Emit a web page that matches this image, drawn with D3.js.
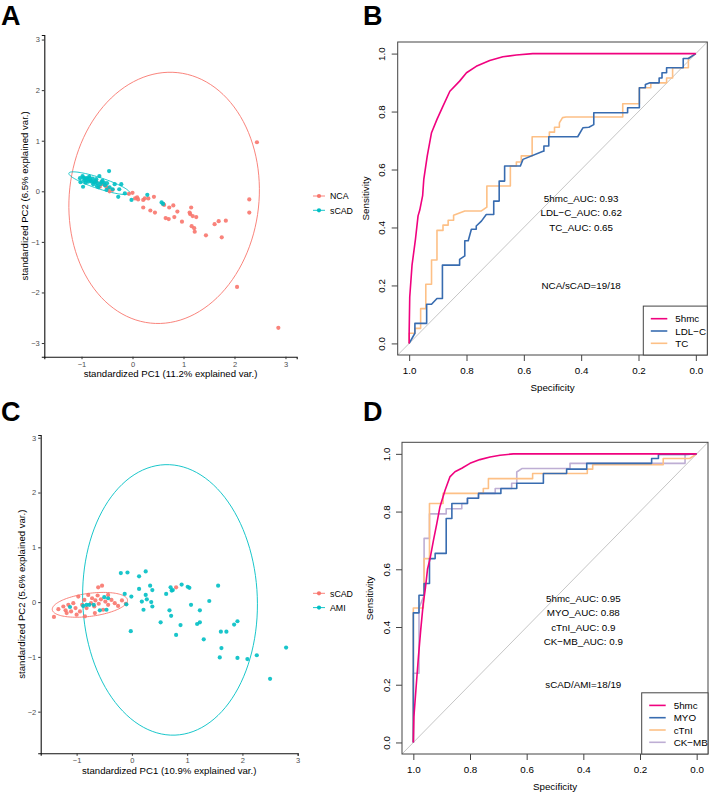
<!DOCTYPE html>
<html><head><meta charset="utf-8">
<script src="https://cdn.jsdelivr.net/npm/d3@7"></script>
<style>body{margin:0;background:#fff}svg{display:block;font-family:"Liberation Sans",Arial,sans-serif}</style>
</head><body><svg id="c" width="709" height="793"></svg>
<script>
// ---------- Panel A data (PCA: NCA vs sCAD) ----------
const pcaA_NCA = [[-0.07,-0.05],[0.0,-0.03],[0.05,-0.14],[0.09,-0.12],[0.11,-0.16],[0.21,-0.17],[0.24,-0.14],[0.31,-0.14],[0.42,-0.11],[0.21,-0.32],[0.35,-0.38],[0.44,-0.42],[0.60,-0.25],[0.62,-0.27],[0.72,-0.32],[0.80,-0.28],[0.82,-0.51],[0.88,-0.40],[0.97,-0.60],[0.65,-0.53],[0.71,-0.55],[1.13,-0.45],[1.15,-0.32],[1.12,-0.42],[1.18,-0.49],[1.25,-0.51],[1.21,-0.73],[1.22,-0.80],[1.16,-0.69],[1.44,-0.87],[1.61,-0.65],[1.69,-0.59],[1.83,-0.58],[1.75,-0.91],[2.29,-0.16],[2.29,-0.42],[2.05,-1.89],[2.86,-2.70],[2.44,0.97],[-0.71,0.19],[-0.61,0.17],[-0.52,0.10],[-0.39,0.03],[-0.64,0.09],[-0.48,0.06],[-0.57,0.14],[-0.45,0.0]];
const pcaA_sCAD = [[-0.46,0.40],[-1.03,0.26],[-0.98,0.30],[-0.95,0.21],[-0.90,0.26],[-0.85,0.29],[-0.82,0.21],[-0.78,0.25],[-0.75,0.18],[-0.71,0.24],[-0.65,0.30],[-0.63,0.14],[-0.59,0.21],[-0.54,0.12],[-0.50,0.16],[-0.45,0.08],[-0.39,0.04],[-0.35,0.14],[-0.26,0.04],[-0.22,0.14],[-0.28,-0.11],[-0.97,0.09],[-0.92,0.17],[-0.87,0.19],[-1.02,0.18],[-0.77,0.14],[-0.67,0.08],[-0.51,0.03],[-0.15,-0.04],[-0.02,-0.17],[0.29,-0.07],[0.57,-0.22],[0.60,-0.25],[-0.93,0.25],[-0.88,0.23],[-0.80,0.19],[-0.73,0.20],[-0.69,0.16],[-0.61,0.18],[-0.56,0.17],[-0.96,0.27],[-0.84,0.26],[-0.70,0.11]];
// ellipse: centre, semi-axes (data units), rotation of first axis (degrees)
const ellA_NCA = {cx:0.62, cy:-0.13, a:2.49, b:1.86, angle:83.8};
const ellA_sCAD = {cx:-0.65, cy:0.16, a:0.63, b:0.11, angle:-18.4};
const groupsA = ["NCA","sCAD"];
const ticksA_x = [-1,0,1,2,3], ticksA_y = [-3,-2,-1,0,1,2,3];

// ---------- Panel C data (PCA: sCAD vs AMI) ----------
const pcaC_sCAD = [[-0.61,0.27],[-0.54,0.30],[-1.41,-0.27],[-1.33,-0.13],[-1.24,-0.08],[-1.20,-0.15],[-1.15,-0.05],[-1.10,-0.17],[-1.06,-0.02],[-1.02,-0.11],[-0.97,0.10],[-0.94,-0.17],[-0.90,-0.05],[-0.86,0.04],[-0.82,-0.11],[-0.79,0.13],[-0.74,-0.02],[-0.72,0.07],[-0.68,-0.08],[-0.66,0.03],[-0.62,0.12],[-0.60,-0.03],[-0.56,0.05],[-0.52,-0.14],[-0.48,0.01],[-0.43,-0.05],[-0.37,0.04],[-0.31,-0.02],[-0.25,-0.07],[-0.18,0.03],[-0.11,-0.03],[-0.85,-0.26],[-0.67,-0.20],[-1.00,-0.23],[-1.18,-0.20],[-0.43,0.13],[0.80,0.27]];
const pcaC_AMI = [[-0.20,0.53],[-0.08,0.54],[0.25,0.56],[0.13,0.47],[0.13,0.24],[0.33,0.30],[0.37,0.22],[0.70,0.27],[0.74,0.22],[0.90,0.32],[1.01,0.28],[1.04,0.26],[1.56,0.30],[-0.13,0.15],[-0.01,0.10],[0.25,0.13],[0.62,0.15],[0.72,0.21],[0.18,0.01],[0.27,0.05],[0.35,0.0],[0.37,-0.08],[0.21,-0.14],[-0.10,-0.04],[0.52,-0.37],[0.68,-0.15],[0.71,-0.25],[0.88,-0.42],[0.80,-0.60],[1.07,-0.05],[1.23,-0.15],[1.18,-0.40],[1.23,-0.37],[1.40,0.02],[1.30,-0.68],[-0.02,-0.53],[1.61,-0.54],[1.71,-0.54],[1.62,-0.84],[1.59,-1.01],[1.85,-0.41],[1.91,-0.35],[1.91,-1.02],[2.09,-1.04],[2.26,-0.97],[2.79,-0.83],[2.50,-1.40],[-1.12,-0.09],[-0.88,-0.07],[-0.82,-0.05],[-0.50,0.09],[-0.43,0.07],[-0.58,-0.15],[-0.46,-0.14],[-0.77,-0.05],[-0.69,-0.05]];
const ellC_sCAD = {cx:-0.76, cy:-0.05, a:0.686, b:0.21, angle:7.5};
const ellC_AMI = {cx:0.69, cy:0.04, a:2.47, b:1.58, angle:92.1};
const groupsC = ["sCAD","AMI"];
const ticksC_x = [-1,0,1,2,3], ticksC_y = [-2,-1,0,1,2,3];

// ---------- Panel B data (ROC: NCA vs sCAD) ----------
const rocB_5hmc = [[1.0,0.0],[1.0,0.04],[0.998,0.16],[0.99,0.27],[0.978,0.36],[0.969,0.44],[0.963,0.46],[0.953,0.51],[0.949,0.566],[0.937,0.646],[0.922,0.727],[0.903,0.773],[0.882,0.819],[0.858,0.87],[0.824,0.905],[0.80,0.934],[0.766,0.956],[0.719,0.976],[0.673,0.989],[0.626,0.995],[0.569,1.0],[0.0,1.0]];
const rocB_LDLC = [[1.0,0.0],[0.98,0.035],[0.98,0.069],[0.939,0.069],[0.939,0.135],[0.922,0.135],[0.903,0.155],[0.884,0.155],[0.884,0.270],[0.824,0.270],[0.824,0.29],[0.806,0.302],[0.806,0.354],[0.794,0.354],[0.783,0.394],[0.766,0.394],[0.766,0.405],[0.748,0.422],[0.731,0.445],[0.705,0.445],[0.705,0.491],[0.686,0.491],[0.686,0.56],[0.667,0.56],[0.667,0.612],[0.612,0.612],[0.603,0.635],[0.533,0.663],[0.530,0.663],[0.530,0.681],[0.513,0.681],[0.513,0.713],[0.412,0.713],[0.394,0.744],[0.373,0.746],[0.356,0.755],[0.356,0.796],[0.238,0.796],[0.238,0.813],[0.197,0.813],[0.197,0.882],[0.176,0.882],[0.176,0.893],[0.160,0.899],[0.128,0.899],[0.128,0.916],[0.118,0.916],[0.118,0.934],[0.102,0.934],[0.102,0.951],[0.044,0.951],[0.044,0.983],[0.026,0.983],[0.0,1.0]];
const rocB_TC = [[1.0,0.0],[1.0,0.035],[0.98,0.035],[0.98,0.052],[0.96,0.052],[0.96,0.12],[0.942,0.12],[0.942,0.204],[0.922,0.204],[0.922,0.288],[0.903,0.288],[0.903,0.39],[0.882,0.39],[0.882,0.408],[0.864,0.408],[0.864,0.425],[0.845,0.425],[0.845,0.442],[0.806,0.457],[0.748,0.457],[0.729,0.47],[0.729,0.543],[0.647,0.543],[0.647,0.612],[0.626,0.612],[0.626,0.626],[0.609,0.626],[0.609,0.647],[0.571,0.647],[0.571,0.713],[0.511,0.713],[0.511,0.729],[0.493,0.729],[0.493,0.746],[0.476,0.746],[0.476,0.761],[0.465,0.779],[0.453,0.781],[0.255,0.781],[0.255,0.827],[0.197,0.827],[0.197,0.882],[0.157,0.882],[0.157,0.899],[0.102,0.899],[0.102,0.916],[0.081,0.916],[0.081,0.951],[0.026,0.951],[0.026,0.983],[0.0,1.0]];
const seriesB = ["5hmc","LDL\u2212C","TC"];
const aucB = ["5hmc_AUC: 0.93","LDL\u2212C_AUC: 0.62","TC_AUC: 0.65"];
const aucB_y = [0.50,0.45,0.40];
const ratioB = "NCA/sCAD=19/18";

// ---------- Panel D data (ROC: sCAD vs AMI) ----------
const rocD_5hmc = [[1.0,0.0],[0.998,0.089],[0.991,0.181],[0.982,0.297],[0.974,0.389],[0.965,0.482],[0.958,0.53],[0.95,0.60],[0.941,0.637],[0.929,0.70],[0.917,0.759],[0.906,0.817],[0.888,0.874],[0.871,0.92],[0.853,0.938],[0.829,0.95],[0.80,0.967],[0.765,0.98],[0.729,0.989],[0.694,0.995],[0.647,1.0],[0.0,1.0]];
const rocD_MYO = [[1.0,0.0],[1.0,0.449],[0.98,0.449],[0.98,0.51],[0.962,0.51],[0.962,0.551],[0.943,0.551],[0.943,0.637],[0.923,0.637],[0.923,0.655],[0.884,0.655],[0.884,0.776],[0.864,0.776],[0.864,0.828],[0.809,0.828],[0.809,0.846],[0.77,0.846],[0.77,0.863],[0.691,0.863],[0.691,0.88],[0.635,0.88],[0.635,0.898],[0.541,0.898],[0.541,0.932],[0.459,0.932],[0.459,0.947],[0.388,0.947],[0.388,0.967],[0.159,0.967],[0.159,0.984],[0.135,0.984],[0.135,0.998],[0.041,0.998],[0.0,1.0]];
const rocD_cTnI = [[1.0,0.0],[1.0,0.466],[0.965,0.466],[0.962,0.51],[0.962,0.637],[0.943,0.637],[0.943,0.828],[0.895,0.828],[0.895,0.863],[0.753,0.863],[0.753,0.88],[0.735,0.88],[0.735,0.914],[0.579,0.914],[0.579,0.932],[0.386,0.932],[0.386,0.947],[0.367,0.947],[0.367,0.962],[0.118,0.962],[0.118,0.984],[0.024,0.984],[0.0,1.0]];
const rocD_CKMB = [[1.0,0.0],[1.0,0.24],[0.98,0.24],[0.98,0.466],[0.962,0.51],[0.962,0.707],[0.943,0.707],[0.943,0.792],[0.884,0.792],[0.884,0.81],[0.829,0.81],[0.829,0.828],[0.809,0.828],[0.809,0.846],[0.77,0.846],[0.77,0.863],[0.711,0.863],[0.711,0.88],[0.653,0.88],[0.653,0.898],[0.635,0.898],[0.635,0.937],[0.617,0.949],[0.447,0.949],[0.447,0.967],[0.041,0.967],[0.041,0.998],[0.0,1.0]];
const seriesD = ["5hmc","MYO","cTnI","CK\u2212MB"];
const aucD = ["5hmc_AUC: 0.95","MYO_AUC: 0.88","cTnI_AUC: 0.9","CK\u2212MB_AUC: 0.9"];
const aucD_y = [0.50,0.45,0.40,0.35];
const ratioD = "sCAD/AMI=18/19";
const rocTicks = [0,0.2,0.4,0.6,0.8,1.0];

// ---------- drawing ----------
const svg = d3.select("#c");
svg.append("rect").attr("width",709).attr("height",793).attr("fill","#fff");
const RED = "#F8766D", TEAL = "#00BFC4";
const ACC = ["#F0027F","#386CB0","#FDC086","#BEAED4"];

function letter(t,x,y){svg.append("text").attr("x",x).attr("y",y).attr("font-size",27).attr("font-weight","bold").attr("fill","#000").text(t);}
letter("A",1,25); letter("B",363,25); letter("C",1,421); letter("D",363,421);

function ellipsePts(e){
  const th = e.angle*Math.PI/180, pts=[];
  for(let i=0;i<=120;i++){const t=i/120*2*Math.PI;
    const u=e.a*Math.cos(t), v=e.b*Math.sin(t);
    pts.push([e.cx+u*Math.cos(th)-v*Math.sin(th), e.cy+u*Math.sin(th)+v*Math.cos(th)]);}
  return pts;
}

function pca(o){
  const g = svg.append("g");
  const x = d3.scaleLinear().domain(o.xd).range(o.xr);
  const y = d3.scaleLinear().domain(o.yd).range(o.yr);
  const line = d3.line().x(d=>x(d[0])).y(d=>y(d[1]));
  o.ells.forEach((e,i)=>g.append("path").attr("d",line(ellipsePts(e))).attr("fill","none").attr("stroke",o.cols[i]).attr("stroke-width",0.9));
  o.pts.forEach((p,i)=>g.selectAll(null).data(p).enter().append("circle")
     .attr("cx",d=>x(d[0])).attr("cy",d=>y(d[1])).attr("r",2.1).attr("fill",o.cols[i]).attr("fill-opacity",0.9));
  const ax = g.append("g").attr("transform",`translate(0,${o.yr[0]})`).call(d3.axisBottom(x).tickValues(o.tx).tickSize(2.5).tickPadding(2).tickFormat(d3.format("d")));
  const ay = g.append("g").attr("transform",`translate(${o.xr[0]},0)`).call(d3.axisLeft(y).tickValues(o.ty).tickSize(2.5).tickPadding(2).tickFormat(d3.format("d")));
  [ax,ay].forEach(a=>{a.select(".domain").attr("stroke","#111").attr("stroke-width",1.1);
    a.selectAll(".tick line").attr("stroke","#333");
    a.selectAll(".tick text").attr("fill","#4D4D4D").attr("font-size",7.5).attr("font-family","Liberation Sans, Arial");
    a.selectAll(".tick text").text(d=>String(d).replace("-","\u2212"));});
  g.append("text").attr("x",(o.xr[0]+o.xr[1])/2).attr("y",o.xlabY).attr("text-anchor","middle").attr("font-size",9.6).attr("fill","#000").text(o.xlab);
  g.append("text").attr("transform",`translate(${o.ylabX},${(o.yr[0]+o.yr[1])/2}) rotate(-90)`).attr("text-anchor","middle").attr("font-size",9.6).attr("fill","#000").text(o.ylab);
  o.groups.forEach((gname,i)=>{const yy=o.legY+i*14.3;
    g.append("line").attr("x1",313).attr("x2",325).attr("y1",yy).attr("y2",yy).attr("stroke",o.cols[i]).attr("stroke-width",0.9);
    g.append("circle").attr("cx",319).attr("cy",yy).attr("r",2.1).attr("fill",o.cols[i]);
    g.append("text").attr("x",330).attr("y",yy+3.2).attr("font-size",8.8).attr("fill","#000").text(gname);});
}

pca({xd:[-1.73,3.22], xr:[44.3,296.7], yd:[-3.27,3.09], yr:[356.7,35],
  ells:[ellA_NCA,ellA_sCAD], pts:[pcaA_NCA,pcaA_sCAD], cols:[RED,TEAL], tx:ticksA_x, ty:ticksA_y,
  xlab:"standardized PC1 (11.2% explained var.)", ylab:"standardized PC2 (6.5% explained var.)",
  xlabY:377, ylabX:28, groups:groupsA, legY:196});
pca({xd:[-1.65,3.0], xr:[40.7,297.7], yd:[-2.76,3.05], yr:[753.3,435],
  ells:[ellC_sCAD,ellC_AMI], pts:[pcaC_sCAD,pcaC_AMI], cols:[RED,TEAL], tx:ticksC_x, ty:ticksC_y,
  xlab:"standardized PC1 (10.9% explained var.)", ylab:"standardized PC2 (5.6% explained var.)",
  xlabY:773.5, ylabX:24.5, groups:groupsC, legY:593.3});

function roc(o){
  const g = svg.append("g");
  const x = d3.scaleLinear().domain([1.04,-0.04]).range(o.xr);
  const y = d3.scaleLinear().domain([-0.04,1.04]).range(o.yr);
  const line = d3.line().x(d=>x(d[0])).y(d=>y(d[1]));
  g.append("line").attr("x1",x(1.04)).attr("y1",y(-0.04)).attr("x2",x(-0.04)).attr("y2",y(1.04)).attr("stroke","#BEBEBE").attr("stroke-width",0.9);
  o.curves.slice().reverse().forEach((c,i)=>{const k=o.curves.length-1-i;
    g.append("path").attr("d",line(c)).attr("fill","none").attr("stroke",ACC[k]).attr("stroke-width",1.6).attr("stroke-linejoin","round");});
  g.append("rect").attr("x",o.xr[0]).attr("y",o.yr[1]).attr("width",o.xr[1]-o.xr[0]).attr("height",o.yr[0]-o.yr[1]).attr("fill","none").attr("stroke","#444").attr("stroke-width",1);
  const ax = g.append("g").attr("transform",`translate(0,${o.yr[0]})`).call(d3.axisBottom(x).tickValues(rocTicks).tickSize(6).tickPadding(6).tickFormat(d3.format(".1f")));
  const ay = g.append("g").attr("transform",`translate(${o.xr[0]},0)`).call(d3.axisLeft(y).tickValues(rocTicks).tickSize(6).tickFormat(d3.format(".1f")));
  [ax,ay].forEach(a=>{a.select(".domain").remove();a.selectAll(".tick line").attr("stroke","#444");
    a.selectAll(".tick text").attr("fill","#000").attr("font-size",9.8).attr("font-family","Liberation Sans, Arial");});
  ay.selectAll(".tick text").attr("x",null).attr("dy",null).attr("text-anchor","middle")
    .attr("transform","translate(-16,0) rotate(-90)").attr("y",3.5);
  g.append("text").attr("x",(o.xr[0]+o.xr[1])/2).attr("y",o.yr[0]+36).attr("text-anchor","middle").attr("font-size",9.8).text("Specificity");
  g.append("text").attr("transform",`translate(${o.xr[0]-29},${(o.yr[0]+o.yr[1])/2}) rotate(-90)`).attr("text-anchor","middle").attr("font-size",9.8).text("Sensitivity");
  o.auc.forEach((t,i)=>g.append("text").attr("x",x(0.4)).attr("y",y(o.aucY[i])+3.5).attr("text-anchor","middle").attr("font-size",9.8).text(t));
  g.append("text").attr("x",x(0.4)).attr("y",y(0.2)+3.5).attr("text-anchor","middle").attr("font-size",9.8).text(o.ratio);
  const n=o.names.length, lx=o.legX, ly=o.yr[0]-(n*12.3+12);
  g.append("rect").attr("x",lx).attr("y",ly).attr("width",o.xr[1]-lx).attr("height",o.yr[0]-ly).attr("fill","#fff").attr("stroke","#444").attr("stroke-width",1);
  o.names.forEach((nm,i)=>{const yy=ly+12.6+i*12.3;
    g.append("line").attr("x1",lx+7.5).attr("x2",lx+24).attr("y1",yy).attr("y2",yy).attr("stroke",ACC[i]).attr("stroke-width",1.6);
    g.append("text").attr("x",lx+32).attr("y",yy+3.5).attr("font-size",9.8).text(nm);});
}

roc({xr:[397.7,707.3], yr:[355,42], curves:[rocB_5hmc,rocB_LDLC,rocB_TC], names:seriesB, auc:aucB, aucY:aucB_y, ratio:ratioB, legX:643.3});
roc({xr:[402,708], yr:[754,442.3], curves:[rocD_5hmc,rocD_MYO,rocD_cTnI,rocD_CKMB], names:seriesD, auc:aucD, aucY:aucD_y, ratio:ratioD, legX:641.7});
</script></body></html>
